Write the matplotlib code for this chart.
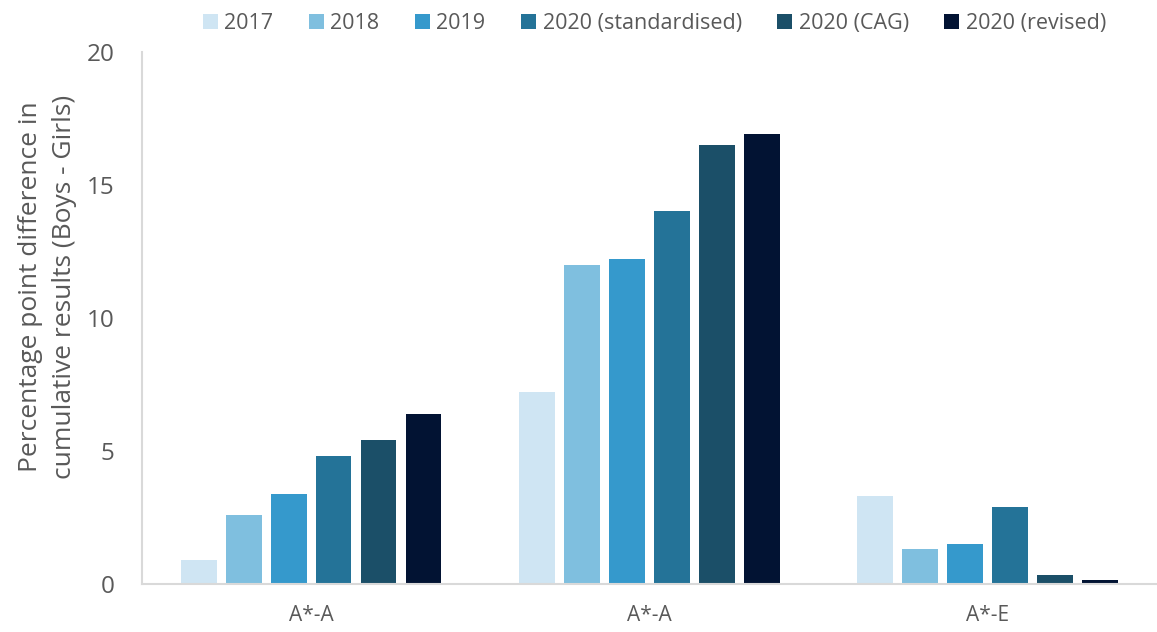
import matplotlib.pyplot as plt
import numpy as np

plt.rcParams['font.family'] = ['Open Sans', 'DejaVu Sans']

categories = ["A*-A", "A*-A", "A*-E"]
series = ["2017", "2018", "2019", "2020 (standardised)", "2020 (CAG)", "2020 (revised)"]
v2017 = [0.9, 7.2, 3.3]
v2018 = [2.6, 12.0, 1.3]
v2019 = [3.4, 12.2, 1.5]
v2020_std = [4.8, 14.0, 2.9]
v2020_cag = [5.4, 16.5, 0.35]
v2020_rev = [6.4, 16.9, 0.15]
colors = ["#cfe5f3", "#7fbfdf", "#3599cc", "#247398", "#1b4f68", "#021333"]

values = [v2017, v2018, v2019, v2020_std, v2020_cag, v2020_rev]
text_col = "#595959"

fig = plt.figure(figsize=(11.57, 6.32), dpi=100)
ax = fig.add_axes([0.1227, 0.076, 0.877, 0.842])

x = np.arange(len(categories))
pitch = 0.133
width = 0.106
for i, (name, vals) in enumerate(zip(series, values)):
    ax.bar(x + (i - 2.5) * pitch, vals, width, color=colors[i], label=name)

ax.set_xlim(-0.5, 2.5)
ax.set_ylim(0, 20)
ax.set_yticks([0, 5, 10, 15, 20])
ax.set_xticks(x)
ax.set_xticklabels(categories)
ax.tick_params(axis='y', length=0, pad=20, labelsize=17.5, labelcolor=text_col)
ax.tick_params(axis='x', length=0, pad=15, labelsize=15, labelcolor=text_col)

for s in ["top", "right"]:
    ax.spines[s].set_visible(False)
for s in ["left", "bottom"]:
    ax.spines[s].set_color("#d9d9d9")
    ax.spines[s].set_linewidth(1.5)

ax.set_ylabel("Percentage point difference in\ncumulative results (Boys - Girls)",
              fontsize=19, color=text_col, linespacing=1.45)
ax.yaxis.set_label_coords(-0.064, 0.558)

ax.legend(loc="lower center", bbox_to_anchor=(0.505, 0.997), ncol=6, frameon=False,
          fontsize=15.5, labelcolor=text_col, handlelength=0.7, handleheight=0.7,
          handletextpad=0.3, columnspacing=1.65)

fig.savefig("out.png")
